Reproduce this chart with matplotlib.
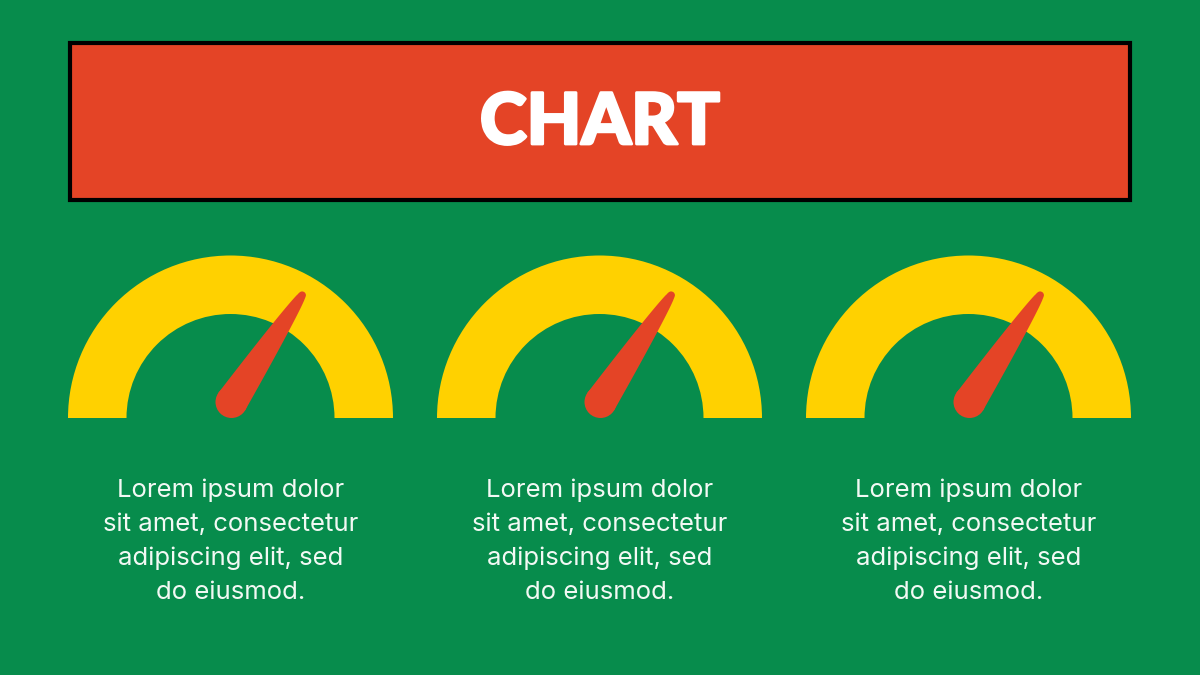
import numpy as np
import matplotlib

matplotlib.use("Agg")
import matplotlib.pyplot as plt
import matplotlib.patheffects as pe
from matplotlib.patches import Rectangle, Wedge, Circle, Polygon

W, H = 1200, 675

BG = "#078c4c"
YELLOW = "#ffd100"
RED = "#e44426"
TEXT = "#f2f9f4"

TITLE = "CHART"
gauge_centres_x = [230.5, 599.5, 968.5]
gauge_values = [0.686, 0.686, 0.686]  # needle position, 0 = left end, 1 = right end
descriptions = [
    ["Lorem ipsum dolor", "sit amet, consectetur", "adipiscing elit, sed", "do eiusmod."],
    ["Lorem ipsum dolor", "sit amet, consectetur", "adipiscing elit, sed", "do eiusmod."],
    ["Lorem ipsum dolor", "sit amet, consectetur", "adipiscing elit, sed", "do eiusmod."],
]

BASE_Y = 418
R_OUT, R_IN = 162.5, 104
NEEDLE_LEN = 128   # pivot centre to tip centre
PIVOT_R = 16
TIP_R = 3.8


def fy(py):
    # pixel row (from top) -> data y (from bottom)
    return H - py


fig = plt.figure(figsize=(12, 6.75), dpi=100)
fig.patch.set_facecolor(BG)
ax = fig.add_axes([0, 0, 1, 1])
ax.set_xlim(0, W)
ax.set_ylim(0, H)
ax.set_aspect("equal")
ax.axis("off")

# title banner
ax.add_patch(Rectangle((69.5, fy(199.5)), 1060, 157, facecolor=RED,
                       edgecolor="black", linewidth=3))
ax.text(600, fy(144), TITLE, color="white", fontsize=51, fontweight="black",
        family=["Lato", "DejaVu Sans"], ha="center", va="baseline",
        path_effects=[pe.withStroke(linewidth=2, foreground="white")])

for cx, val, lines in zip(gauge_centres_x, gauge_values, descriptions):
    cy = fy(BASE_Y)
    ax.add_patch(Wedge((cx, cy), R_OUT, 0, 180, width=R_OUT - R_IN,
                       facecolor=YELLOW, edgecolor="none"))

    # needle: slightly convex taper with rounded pivot and tip
    ang = np.pi * (1 - val)
    base = np.array([cx + 1, cy + PIVOT_R])
    d = np.array([np.cos(ang), np.sin(ang)])
    n = np.array([-d[1], d[0]])
    t = np.linspace(0, 1, 40)
    half = TIP_R + (PIVOT_R - TIP_R) * (1 - t) ** 0.75
    left = [base + d * NEEDLE_LEN * ti + n * hi for ti, hi in zip(t, half)]
    right = [base + d * NEEDLE_LEN * ti - n * hi for ti, hi in zip(t, half)]
    ax.add_patch(Polygon(left + right[::-1], closed=True,
                         facecolor=RED, edgecolor="none"))
    ax.add_patch(Circle(base, PIVOT_R, facecolor=RED, edgecolor="none"))
    ax.add_patch(Circle(base + d * NEEDLE_LEN, TIP_R, facecolor=RED, edgecolor="none"))

    for i, line in enumerate(lines):
        ax.text(cx, fy(497 + 34 * i), line, color=TEXT, fontsize=18.5,
                family=["Inter", "DejaVu Sans"], ha="center", va="baseline")

fig.savefig("out.png", dpi=100, facecolor=BG)
